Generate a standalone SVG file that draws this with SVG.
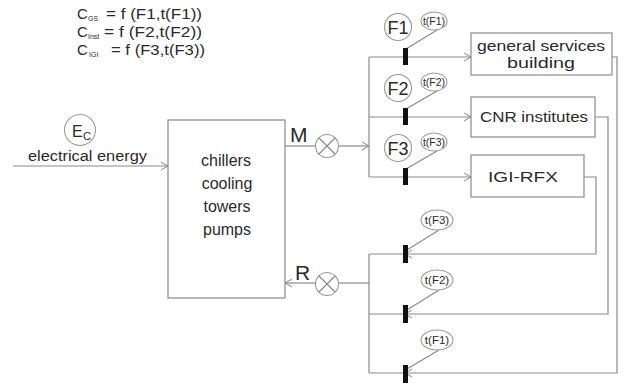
<svg xmlns="http://www.w3.org/2000/svg" width="630" height="383" viewBox="0 0 630 383">
<defs>
<style>
.ln{fill:none;stroke:#8a8a8a;stroke-width:1.2}
.bx{fill:#fff;stroke:#8a8a8a;stroke-width:1.2}
.ci{fill:#fff;stroke:#9a9a9a;stroke-width:1.1}
.bar{fill:#111}
text{font-family:"Liberation Sans",Arial,sans-serif;fill:#2a2a2a}
.t16{font-size:16px}
.t15{font-size:15px}
.t14{font-size:14px}
.t10{font-size:10.5px}
.t11{font-size:11.5px}
.big{font-size:21px}
.fl{font-size:18px}
.sub{font-size:7px}
</style>
<marker id="ar" markerWidth="10" markerHeight="10" refX="8" refY="5" orient="auto" markerUnits="userSpaceOnUse">
<path d="M1,1 L8,5 L1,9" fill="none" stroke="#8a8a8a" stroke-width="1"/>
</marker>
</defs>
<rect width="630" height="383" fill="#fff"/>

<g id="formulas">
<text x="77" y="19" class="t15">C</text><text x="88" y="21" class="sub">GS</text><text x="106" y="19" class="t14" textLength="96" lengthAdjust="spacingAndGlyphs">= f (F1,t(F1))</text>
<text x="77" y="37" class="t15">C</text><text x="88" y="39" class="sub">Inst</text><text x="104" y="37" class="t14" textLength="98" lengthAdjust="spacingAndGlyphs">= f (F2,t(F2))</text>
<text x="77" y="55" class="t15">C</text><text x="89" y="57" class="sub">IGI</text><text x="111" y="55" class="t14" textLength="94" lengthAdjust="spacingAndGlyphs">= f (F3,t(F3))</text>
</g>

<g id="connectors">
<line class="ln" x1="13" y1="166" x2="168" y2="166" marker-end="url(#ar)"/>
<line class="ln" x1="285" y1="146" x2="315" y2="146"/>
<line class="ln" x1="338" y1="146" x2="369" y2="146" marker-end="url(#ar)"/>
<line class="ln" x1="369" y1="57" x2="369" y2="177"/>
<line class="ln" x1="369" y1="57" x2="471" y2="57" marker-end="url(#ar)"/>
<line class="ln" x1="369" y1="117" x2="471" y2="117" marker-end="url(#ar)"/>
<line class="ln" x1="369" y1="177" x2="471" y2="177" marker-end="url(#ar)"/>
<polyline class="ln" points="612,57 617,57 617,373 405,373" marker-end="url(#ar)"/>
<polyline class="ln" points="595,117 608,117 608,314 405,314" marker-end="url(#ar)"/>
<polyline class="ln" points="584,177 596,177 596,254 405,254" marker-end="url(#ar)"/>
<line class="ln" x1="405" y1="373" x2="369" y2="373"/>
<line class="ln" x1="405" y1="314" x2="369" y2="314"/>
<line class="ln" x1="405" y1="254" x2="369" y2="254"/>
<line class="ln" x1="369" y1="254" x2="369" y2="373"/>
<line class="ln" x1="369" y1="283" x2="339" y2="283"/>
<line class="ln" x1="316" y1="283" x2="285" y2="283" marker-end="url(#ar)"/>
<line class="ln" x1="437" y1="30" x2="406" y2="49"/>
<line class="ln" x1="437" y1="91" x2="406" y2="109"/>
<line class="ln" x1="437" y1="151" x2="406" y2="169"/>
<line class="ln" x1="439" y1="230" x2="407" y2="250"/>
<line class="ln" x1="439" y1="290" x2="407" y2="310"/>
<line class="ln" x1="439" y1="350" x2="407" y2="369"/>
</g>

<g id="Ec">
<circle class="ci" cx="80" cy="130" r="15.5"/>
<text x="72" y="137" class="t16" font-size="17">E</text><text x="83" y="140" font-size="11">C</text>
<text x="28" y="161" class="t14" textLength="119" lengthAdjust="spacingAndGlyphs">electrical energy</text>
</g>

<g id="plant">
<rect class="bx" x="168" y="120" width="117" height="178"/>
<text x="226" y="166" class="t16" text-anchor="middle">chillers</text>
<text x="227" y="189" class="t16" text-anchor="middle">cooling</text>
<text x="227" y="212" class="t16" text-anchor="middle">towers</text>
<text x="227" y="235" class="t16" text-anchor="middle">pumps</text>
</g>

<g id="M">
<text x="290" y="142" class="big">M</text>
<circle class="ci" cx="327" cy="146" r="11.5"/>
<path class="ln" d="M319,138 L335,154 M335,138 L319,154"/>
</g>
<g id="R">
<text x="295" y="280" class="big">R</text>
<circle class="ci" cx="327" cy="284" r="11.5"/>
<path class="ln" d="M319,276 L335,292 M335,276 L319,292"/>
</g>

<g id="gsb">
<rect class="bx" x="471" y="33" width="141" height="42"/>
<text x="477" y="51" class="t15" textLength="128" lengthAdjust="spacingAndGlyphs">general services</text>
<text x="507" y="68" class="t15" textLength="68" lengthAdjust="spacingAndGlyphs">building</text>
</g>
<g id="cnr">
<rect class="bx" x="471" y="97" width="124" height="40"/>
<text x="480" y="122" class="t15" textLength="108" lengthAdjust="spacingAndGlyphs">CNR institutes</text>
</g>
<g id="igi">
<rect class="bx" x="471" y="155" width="113" height="42"/>
<text x="488" y="182" class="t15" textLength="70" lengthAdjust="spacingAndGlyphs">IGI-RFX</text>
</g>

<g id="F1">
<circle class="ci" cx="398" cy="27" r="13.5"/>
<text x="398" y="34" class="fl" text-anchor="middle">F1</text>
<ellipse class="ci" cx="434" cy="21" rx="13" ry="9"/>
<text x="434" y="25" class="t10" text-anchor="middle">t(F1)</text>
<rect class="bar" x="403" y="48" width="5" height="17"/>
</g>
<g id="F2">
<circle class="ci" cx="398" cy="88" r="13.5"/>
<text x="398" y="95" class="fl" text-anchor="middle">F2</text>
<ellipse class="ci" cx="434" cy="82" rx="13" ry="9"/>
<text x="434" y="86" class="t10" text-anchor="middle">t(F2)</text>
<rect class="bar" x="403" y="108" width="5" height="17"/>
</g>
<g id="F3">
<circle class="ci" cx="398" cy="148" r="13.5"/>
<text x="398" y="155" class="fl" text-anchor="middle">F3</text>
<ellipse class="ci" cx="434" cy="142" rx="13" ry="9"/>
<text x="434" y="146" class="t10" text-anchor="middle">t(F3)</text>
<rect class="bar" x="403" y="168" width="5" height="17"/>
</g>

<g id="tF3r">
<ellipse class="ci" cx="437" cy="220" rx="16" ry="10"/>
<text x="437" y="224" class="t11" text-anchor="middle">t(F3)</text>
<rect class="bar" x="403" y="245" width="5" height="18"/>
</g>
<g id="tF2r">
<ellipse class="ci" cx="437" cy="280" rx="16" ry="10"/>
<text x="437" y="284" class="t11" text-anchor="middle">t(F2)</text>
<rect class="bar" x="403" y="305" width="5" height="18"/>
</g>
<g id="tF1r">
<ellipse class="ci" cx="437" cy="340" rx="16" ry="10"/>
<text x="437" y="344" class="t11" text-anchor="middle">t(F1)</text>
<rect class="bar" x="403" y="365" width="5" height="18"/>
</g>
</svg>
